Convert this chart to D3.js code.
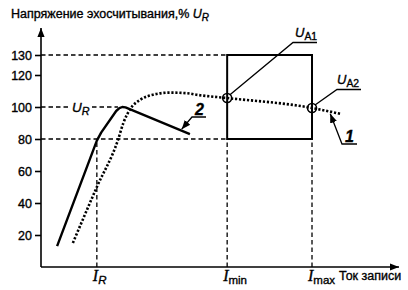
<!DOCTYPE html>
<html>
<head>
<meta charset="utf-8">
<script src="https://cdn.jsdelivr.net/npm/d3@7"></script>
<style>
  body { margin: 0; background: #fff; }
  svg { display: block; }
  text { font-family: Arial, "Liberation Sans", sans-serif; fill: #000; stroke: #000; stroke-width: 0.35px; }
  .serif { font-family: "Times New Roman", "Liberation Serif", serif; font-style: italic; }
</style>
</head>
<body>
<div id="chart"></div>
<script>
// значения (ток записи в условных единицах, напряжение в % U_R)
const yTicks = [20, 40, 60, 80, 100, 120, 130];
const curve2I = [4.5, 15.6, 16.8, 21, 21.9, 22.7, 23.6, 41.6];
const curve2U = [13, 79, 84, 97.5, 99.3, 100, 99.8, 83];
const curve1I = [8.9, 15.6, 21.5, 23, 25, 27.7, 31.3, 36, 40.8, 43.9, 52, 75.7, 83.8];
const curve1U = [15, 50, 79.4, 90, 99, 104.5, 107.7, 109, 108.6, 107.5, 105.6, 99.4, 95.6];
const markI = [15.6, 52, 75.7];          // I_R, I_min, I_max
const windowU = [80, 130];                // допуск по напряжению
const pointsI = [52, 75.7];               // U_A1, U_A2
const pointsU = [105.6, 99.4];

var W = 408, H = 290;

var svg = d3.select("#chart")
    .append("svg")
    .attr("width", W)
    .attr("height", H);

var x = d3.scaleLinear().domain([0, 100]).range([41, 399]);
var y = d3.scaleLinear().domain([0, 120, 130]).range([267, 75, 55]);

var defs = svg.append("defs");
defs.append("marker")
    .attr("id", "arr")
    .attr("viewBox", "0 0 10 10")
    .attr("refX", 10).attr("refY", 5)
    .attr("markerWidth", 9).attr("markerHeight", 9)
    .attr("markerUnits", "userSpaceOnUse")
    .attr("orient", "auto")
    .append("path")
    .attr("d", "M0,1 L10,5 L0,9 Z")
    .attr("fill", "#000");

// пунктирные направляющие
var dash = "4.5,3";
function dline(x1, y1, x2, y2) {
    svg.append("line")
        .attr("x1", x1).attr("y1", y1).attr("x2", x2).attr("y2", y2)
        .attr("stroke", "#000").attr("stroke-width", 1.3)
        .attr("stroke-dasharray", dash);
}
dline(x(0), y(windowU[1]), x(markI[1]), y(windowU[1]));
dline(x(0), y(windowU[0]), x(markI[1]), y(windowU[0]));
dline(x(0), y(100), 68, y(100));
dline(92, y(100), x(21.5), y(100));
markI.forEach(function(d) { dline(x(d), y(0), x(d), y(windowU[0])); });

// окно допуска
svg.append("rect")
    .attr("x", x(markI[1])).attr("y", y(windowU[1]))
    .attr("width", x(markI[2]) - x(markI[1]))
    .attr("height", y(windowU[0]) - y(windowU[1]))
    .attr("fill", "none").attr("stroke", "#000").attr("stroke-width", 2);

// оси
svg.append("line")
    .attr("x1", x(0)).attr("y1", y(0)).attr("x2", x(0)).attr("y2", 28)
    .attr("stroke", "#000").attr("stroke-width", 1.6)
    .attr("marker-end", "url(#arr)");
svg.append("line")
    .attr("x1", x(0)).attr("y1", y(0)).attr("x2", x(100)).attr("y2", y(0))
    .attr("stroke", "#000").attr("stroke-width", 1.6)
    .attr("marker-end", "url(#arr)");

var yAxis = svg.append("g")
    .attr("transform", "translate(" + x(0) + ",0)")
    .call(d3.axisLeft(y).tickValues(yTicks).tickSize(6).tickPadding(3));
yAxis.select(".domain").remove();
yAxis.selectAll("line").attr("stroke-width", 1.6);
yAxis.selectAll("text").style("font-size", "12.5px").attr("font-family", null);

// кривые
var line2 = d3.line()
    .x(function(d, i) { return x(curve2I[i]); })
    .y(function(d) { return y(d); })
    .curve(d3.curveLinear);
svg.append("path")
    .attr("d", line2(curve2U))
    .attr("fill", "none").attr("stroke", "#000")
    .attr("stroke-width", 2.4).attr("stroke-linejoin", "round");

var line1 = d3.line()
    .x(function(d, i) { return x(curve1I[i]); })
    .y(function(d) { return y(d); })
    .curve(d3.curveMonotoneX);
svg.append("path")
    .attr("d", line1(curve1U))
    .attr("fill", "none").attr("stroke", "#000")
    .attr("stroke-width", 2.6).attr("stroke-dasharray", "2.2,1.8");

// точки U_A1, U_A2
svg.selectAll(".pt")
    .data(pointsI)
    .enter()
    .append("circle")
    .attr("class", "pt")
    .attr("cx", function(d) { return x(d); })
    .attr("cy", function(d, i) { return y(pointsU[i]); })
    .attr("r", 4.5)
    .attr("fill", "none").attr("stroke", "#000").attr("stroke-width", 1.6);

// выноски
function leader(pts, arrow) {
    var p = svg.append("path")
        .attr("d", d3.line()(pts))
        .attr("fill", "none").attr("stroke", "#000").attr("stroke-width", 1.3);
    if (arrow) p.attr("marker-end", "url(#arr)");
}
var a1x = x(pointsI[0]), a1y = y(pointsU[0]);
var a2x = x(pointsI[1]), a2y = y(pointsU[1]);
leader([[317, 42.5], [293, 42.5], [a1x + 2.5, a1y - 3]], false);
leader([[361, 89.5], [337, 89.5], [a2x + 3, a2y - 3]], false);
leader([[206, 117], [192, 117], [x(39.3), y(85.2) - 1.5]], true);
leader([[357, 144], [342, 144], [x(80.8), y(97) + 2]], true);

function sub(g, main, subTxt, px, py, size) {
    var t = svg.append("text").attr("x", px).attr("y", py)
        .style("font-size", size + "px");
    t.append("tspan").style("font-style", "italic").text(main);
    t.append("tspan").attr("dy", 3).style("font-size", (size * 0.8) + "px")
        .style("font-style", g ? "italic" : "normal").text(subTxt);
    return t;
}

// заголовок оси Y
var title = svg.append("text").attr("x", 11).attr("y", 18).style("font-size", "12.5px");
title.append("tspan").text("Напряжение эхосчитывания,% ");
title.append("tspan").style("font-style", "italic").text("U");
title.append("tspan").attr("dy", 3).style("font-size", "10px").style("font-style", "italic").text("R");

sub(true, "U", "R", 72, y(100) + 5, 13.5);
sub(false, "U", "A1", 295, 37, 13);
sub(false, "U", "A2", 337, 84, 13);

svg.append("text").attr("x", 195).attr("y", 115)
    .style("font-size", "16px").style("font-weight", "bold").style("font-style", "italic").text("2");
svg.append("text").attr("x", 345).attr("y", 142)
    .style("font-size", "16px").style("font-weight", "bold").style("font-style", "italic").text("1");

// подписи оси X
var xl = [["R", true], ["min", false], ["max", false]];
markI.forEach(function(d, i) {
    var t = svg.append("text").attr("x", x(d) - 4).attr("y", 281);
    t.append("tspan").attr("class", "serif").style("font-size", "16px").text("I");
    t.append("tspan").attr("dy", 3).style("font-size", "11.5px")
        .style("font-style", xl[i][1] ? "italic" : "normal").text(xl[i][0]);
});
svg.append("text").attr("x", 339).attr("y", 280)
    .style("font-size", "12.5px").text("Ток записи");
</script>
</body>
</html>
